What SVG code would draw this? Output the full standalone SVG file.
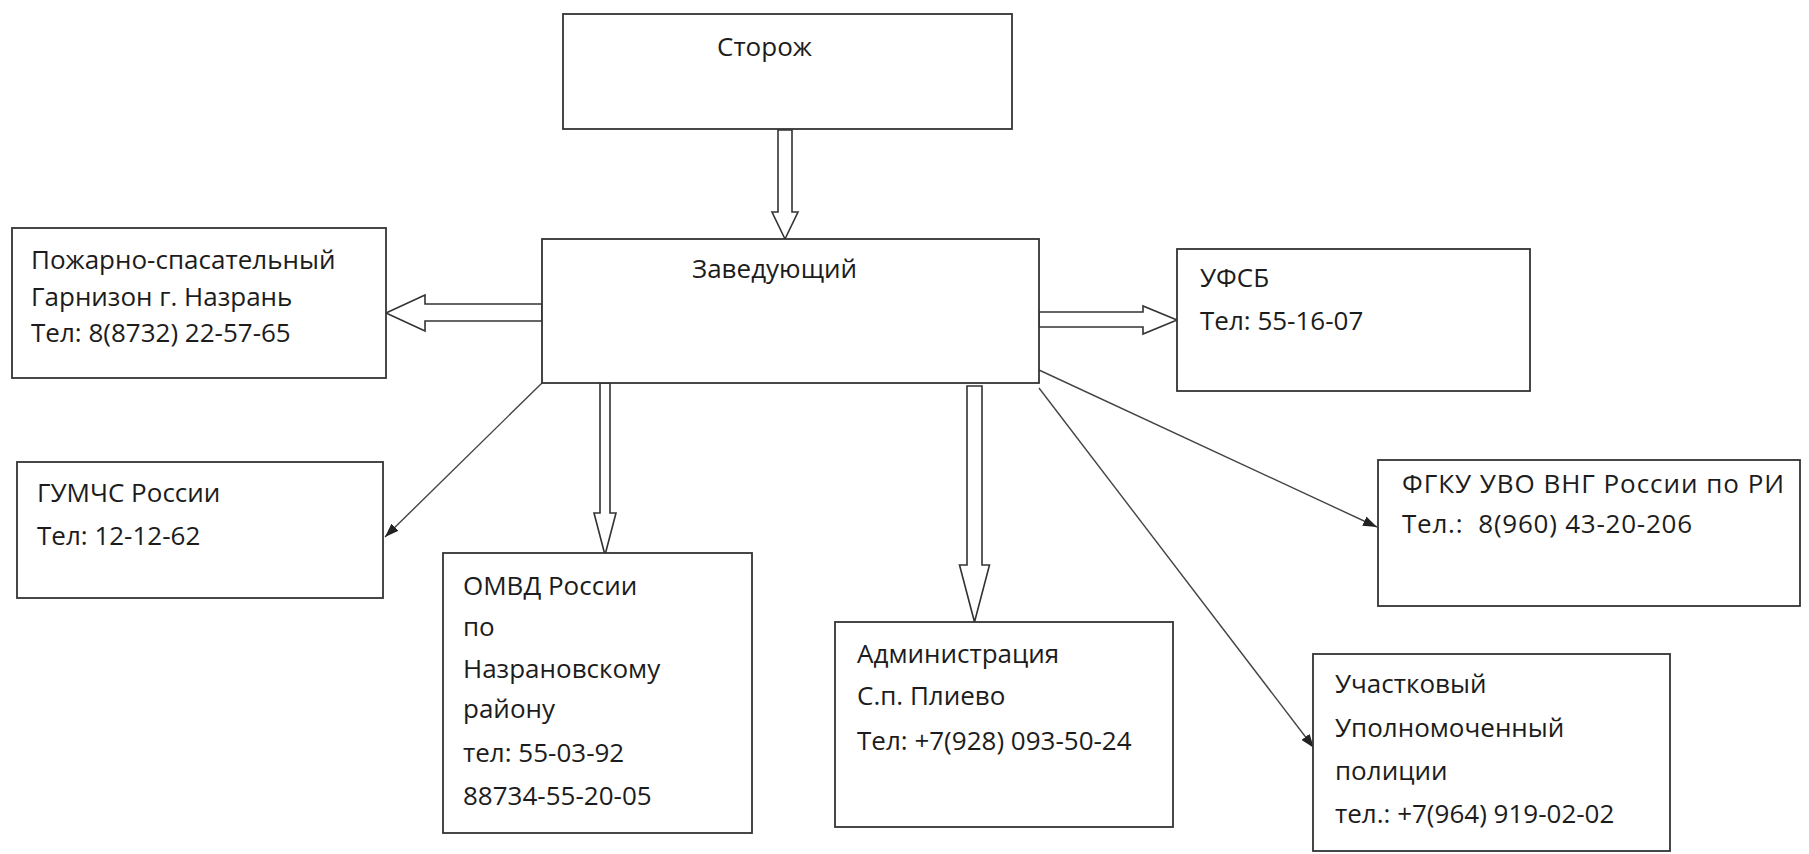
<svg xmlns="http://www.w3.org/2000/svg" width="1809" height="854" viewBox="0 0 1809 854">
<style>
.box{fill:#fff;stroke:#333;stroke-width:1.8}
.t{font-family:"Open Sans","Noto Sans","DejaVu Sans",sans-serif;font-size:26px;fill:#1c1c1c}
.blk{fill:#fff;stroke:#333;stroke-width:1.6;stroke-linejoin:miter}
.ln{stroke:#444;stroke-width:1.4;fill:none}
</style>
<defs>
<marker id="ah" viewBox="0 0 14 10" refX="14" refY="5" markerWidth="14" markerHeight="10" markerUnits="userSpaceOnUse" orient="auto">
<path d="M0,0 L14,5 L0,10 z" fill="#222"/>
</marker>
</defs>
<rect width="1809" height="854" fill="#fff"/>
<g id="connectors">
<polygon class="blk" points="778,130 792,130 792,212 798,212 785,239 772,212 778,212"/>
<polygon class="blk" points="542,304 425,304 425,295 386,313 425,331 425,321 542,321"/>
<polygon class="blk" points="1039,312 1143,312 1143,306 1177,320 1143,334 1143,327 1039,327"/>
<polygon class="blk" points="600,383 610,383 610,513 616,513 605,555 594,513 600,513"/>
<polygon class="blk" points="967,386 982,386 982,565 989.5,565 974.5,622 959.5,565 967,565"/>
<line class="ln" x1="542" y1="383" x2="385" y2="537" marker-end="url(#ah)"/>
<line class="ln" x1="1039" y1="370" x2="1377" y2="527" marker-end="url(#ah)"/>
<line class="ln" x1="1039" y1="388" x2="1314" y2="748" marker-end="url(#ah)"/>
</g>
<g id="storozh">
<rect class="box" x="563" y="14" width="449" height="115"/>
<text class="t" x="717" y="56">Сторож</text>
</g>
<g id="zaveduyushchiy">
<rect class="box" x="542" y="239" width="497" height="144"/>
<text class="t" x="692" y="278">Заведующий</text>
</g>
<g id="pozharno">
<rect class="box" x="12" y="228" width="374" height="150"/>
<text class="t" x="31" y="269">Пожарно-спасательный</text>
<text class="t" x="31" y="306">Гарнизон г. Назрань</text>
<text class="t" x="31" y="342">Тел: 8(8732) 22-57-65</text>
</g>
<g id="ufsb">
<rect class="box" x="1177" y="249" width="353" height="142"/>
<text class="t" x="1200" y="287">УФСБ</text>
<text class="t" x="1200" y="330">Тел: 55-16-07</text>
</g>
<g id="gumchs">
<rect class="box" x="17" y="462" width="366" height="136"/>
<text class="t" x="37" y="502">ГУМЧС России</text>
<text class="t" x="37" y="545">Тел: 12-12-62</text>
</g>
<g id="omvd">
<rect class="box" x="443" y="553" width="309" height="280"/>
<text class="t" x="463" y="595">ОМВД России</text>
<text class="t" x="463" y="636">по</text>
<text class="t" x="463" y="678">Назрановскому</text>
<text class="t" x="463" y="718">району</text>
<text class="t" x="463" y="762">тел: 55-03-92</text>
<text class="t" x="463" y="805">88734-55-20-05</text>
</g>
<g id="administratsiya">
<rect class="box" x="835" y="622" width="338" height="205"/>
<text class="t" x="857" y="663">Администрация</text>
<text class="t" x="857" y="705">С.п. Плиево</text>
<text class="t" x="857" y="750">Тел: +7(928) 093-50-24</text>
</g>
<g id="fgku">
<rect class="box" x="1378" y="460" width="422" height="146"/>
<text class="t" x="1402" y="493" textLength="382" lengthAdjust="spacing">ФГКУ УВО ВНГ России по РИ</text>
<text class="t" x="1402" y="533" textLength="290" lengthAdjust="spacing">Тел.:&#160; 8(960) 43-20-206</text>
</g>
<g id="uchastkovyy">
<rect class="box" x="1313" y="654" width="357" height="197"/>
<text class="t" x="1335" y="693">Участковый</text>
<text class="t" x="1335" y="737">Уполномоченный</text>
<text class="t" x="1335" y="780">полиции</text>
<text class="t" x="1335" y="823">тел.: +7(964) 919-02-02</text>
</g>
</svg>
